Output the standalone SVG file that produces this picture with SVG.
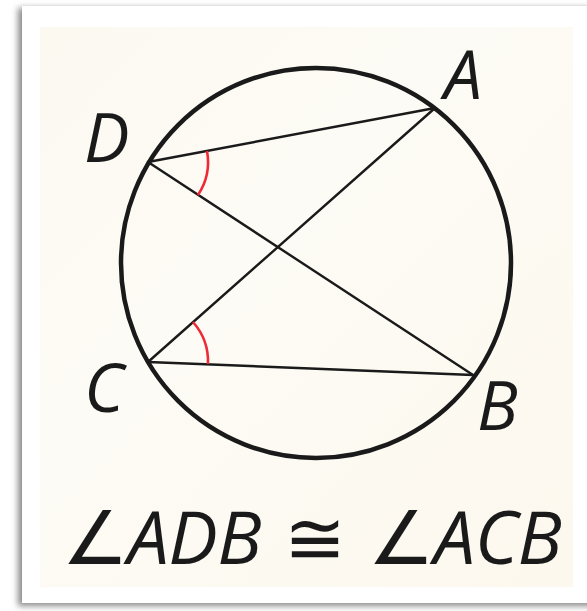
<svg xmlns="http://www.w3.org/2000/svg" width="587" height="611" viewBox="0 0 587 611">
<defs>
<filter id="sh" x="-10%" y="-10%" width="120%" height="120%"><feGaussianBlur stdDeviation="3"/></filter>
<linearGradient id="bg" x1="0" y1="0" x2="1" y2="1"><stop offset="0" stop-color="#fcf9f1"/><stop offset="0.4" stop-color="#fdfbf5"/><stop offset="1" stop-color="#fcf8ee"/></linearGradient>
</defs>
<style>
.lbl{font-family:"Open Sans","Noto Sans",sans-serif;font-style:italic;font-size:68px;fill:#1a1a1a}
.cap{font-family:"Open Sans","Noto Sans",sans-serif;font-size:74px;fill:#1a1a1a}
.sym{font-family:"DejaVu Sans",sans-serif;font-weight:200;font-style:normal}
.ln{stroke:#1a1a1a;stroke-width:2.4;fill:none;stroke-linecap:round}
.arc{stroke:#ee2a36;stroke-width:2.6;fill:none}
</style>
<rect width="587" height="611" fill="#ffffff"/>
<rect x="18" y="8" width="580" height="598" fill="#8a8a8a" filter="url(#sh)"/>
<rect x="22" y="6" width="570" height="597" fill="#ffffff"/>
<rect x="40" y="27" width="533" height="560" fill="url(#bg)"/>
<g id="circle"><circle cx="316" cy="263" r="195" fill="none" stroke="#1a1a1a" stroke-width="4.5"/></g>
<g id="connectors">
<line class="ln" x1="148" y1="162" x2="435" y2="108"/>
<line class="ln" x1="148" y1="162" x2="473" y2="375"/>
<line class="ln" x1="148" y1="362" x2="435" y2="108"/>
<line class="ln" x1="148" y1="362" x2="473" y2="375"/>
</g>
<g id="angles">
<path class="arc" d="M207 151 A60 60 0 0 1 198 195"/>
<path class="arc" d="M193 322 A60 60 0 0 1 208 364"/>
</g>
<g id="A"><text class="lbl" x="444" y="99">A</text></g>
<g id="D"><text class="lbl" x="84" y="162">D</text></g>
<g id="C"><text class="lbl" x="84" y="412">C</text></g>
<g id="B"><text class="lbl" x="477" y="430">B</text></g>
<g id="caption"><text class="cap" x="62" y="564" textLength="500" lengthAdjust="spacing"><tspan class="sym">∠</tspan><tspan font-style="italic">ADB</tspan><tspan class="sym"> ≅ ∠</tspan><tspan font-style="italic">ACB</tspan></text></g>
</svg>
